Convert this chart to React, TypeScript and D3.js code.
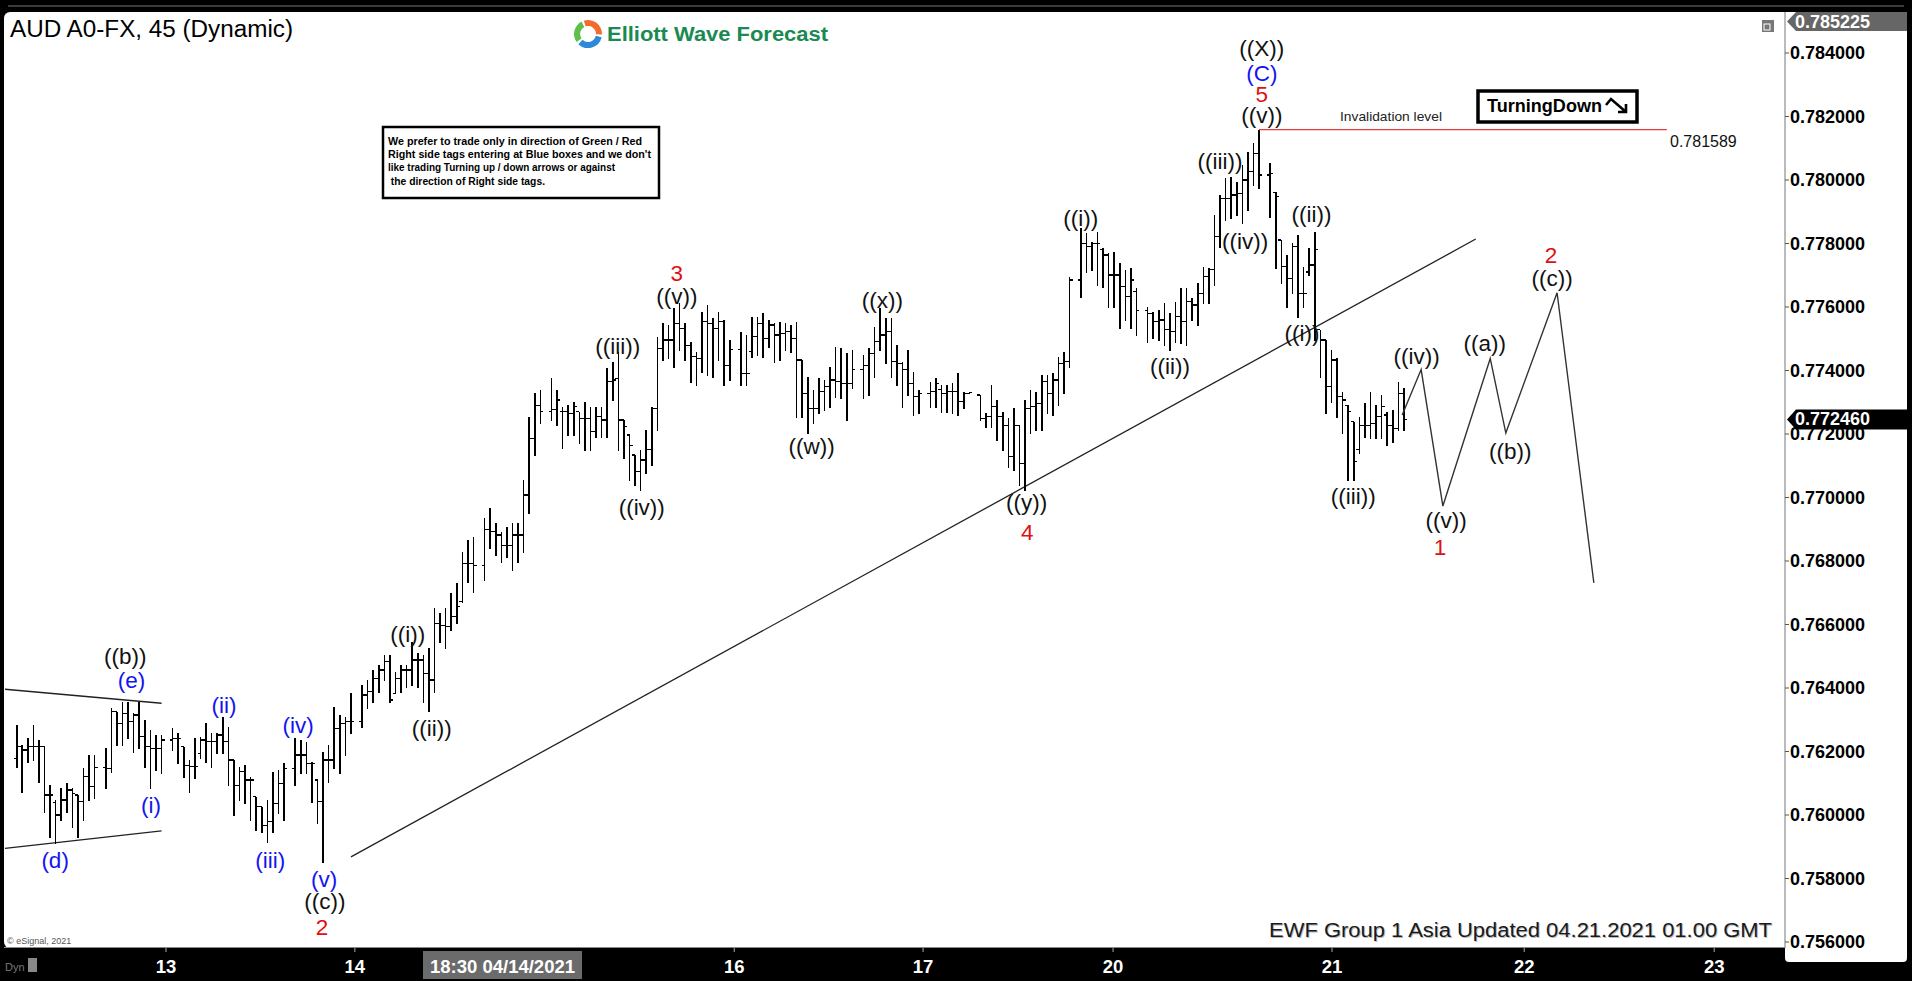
import React from 'react';
import * as d3 from 'd3';

const W = 1912;
const H = 981;
const FONT = '"Liberation Sans", Arial, Helvetica, sans-serif';

type Bar = [number, number, number, number] | null; // open, high, low, close

// Apr 12 - Apr 13 (slots 0-48)
const barsA: Bar[] = [
  [0.76178, 0.76283, 0.76152, 0.76215], [0.76215, 0.7622, 0.76073, 0.76205], [0.76205, 0.76241, 0.76168, 0.76215],
  [0.76215, 0.76283, 0.76173, 0.76215], [0.76215, 0.76236, 0.76105, 0.76215], [0.76215, 0.76215, 0.7601, 0.76063],
  [0.76063, 0.76094, 0.75932, 0.76063], [0.7604, 0.76047, 0.75911, 0.76], [0.76, 0.76084, 0.75984, 0.76047],
  [0.76047, 0.761, 0.7601, 0.76079], [0.76079, 0.76084, 0.75963, 0.76068], [0.76063, 0.76063, 0.75932, 0.76042],
  [0.76042, 0.76147, 0.75984, 0.76121], [0.76121, 0.76189, 0.76047, 0.76089], [0.76089, 0.76189, 0.76052, 0.7615],
  null,
  [0.7615, 0.7621, 0.76084, 0.76147], [0.76147, 0.76336, 0.76136, 0.76325], [0.76325, 0.76325, 0.7622, 0.76289],
  [0.76289, 0.76357, 0.7622, 0.7632], [0.7632, 0.76357, 0.76241, 0.76294], [0.76294, 0.7632, 0.76199, 0.76315],
  [0.76315, 0.76357, 0.7621, 0.76247], [0.76247, 0.76299, 0.76152, 0.76215], [0.76215, 0.76268, 0.76084, 0.7621],
  [0.7621, 0.76252, 0.76142, 0.7621], [0.7621, 0.76252, 0.76131, 0.76236],
  null,
  [0.76236, 0.76273, 0.76205, 0.76241], [0.76241, 0.76257, 0.76163, 0.76241], [0.76215, 0.76215, 0.76121, 0.76157],
  [0.76157, 0.76173, 0.76073, 0.76152], [0.76152, 0.76241, 0.76115, 0.76152], [0.76194, 0.76247, 0.76178, 0.76236],
  [0.76236, 0.76289, 0.76168, 0.76231], [0.76231, 0.76257, 0.76152, 0.76231], [0.76231, 0.76257, 0.76194, 0.76252],
  [0.76252, 0.7631, 0.76194, 0.76231], [0.76231, 0.76278, 0.76094, 0.76173], [0.76173, 0.76173, 0.76, 0.76094],
  [0.76094, 0.76152, 0.76047, 0.76136], [0.76136, 0.76157, 0.76037, 0.7611], [0.7611, 0.76121, 0.75984, 0.7611],
  [0.76058, 0.76058, 0.75953, 0.76026], [0.76026, 0.76026, 0.75947, 0.75968], [0.75968, 0.76047, 0.75916, 0.75979],
  [0.75979, 0.76136, 0.75947, 0.76037], [0.76037, 0.76142, 0.76005, 0.761], [0.761, 0.76163, 0.75984, 0.76147],
];

// Apr 13 - Apr 15 (slots 49-99)
const barsB: Bar[] = [
  null,
  [0.76147, 0.76241, 0.76094, 0.76189], [0.76189, 0.76236, 0.76131, 0.76189], [0.76189, 0.76231, 0.76131, 0.76163],
  [0.76163, 0.76168, 0.76042, 0.76163], [0.7611, 0.7611, 0.75974, 0.76042], [0.76042, 0.76199, 0.75853, 0.76173],
  [0.76173, 0.7622, 0.76105, 0.76173], [0.76173, 0.76341, 0.76147, 0.76273], [0.76273, 0.76315, 0.76131, 0.76289],
  [0.76289, 0.7631, 0.76189, 0.76294], [0.76294, 0.76383, 0.76257, 0.76294],
  null,
  [0.76294, 0.76409, 0.76278, 0.76378], [0.76378, 0.76425, 0.76336, 0.76388], [0.76388, 0.76457, 0.76357, 0.7643],
  [0.7643, 0.76472, 0.76388, 0.76457], [0.76457, 0.76504, 0.76425, 0.76483], [0.76483, 0.76504, 0.76357, 0.76362],
  [0.76383, 0.76451, 0.76383, 0.7643], [0.7643, 0.76472, 0.76388, 0.76457], [0.76457, 0.76472, 0.76404, 0.76457],
  [0.76457, 0.76546, 0.76409, 0.76488], [0.76488, 0.76509, 0.76404, 0.76488], [0.76488, 0.76504, 0.76357, 0.76446],
  [0.76446, 0.76525, 0.76326, 0.76425], [0.76425, 0.76651, 0.76388, 0.76604], [0.76604, 0.76635, 0.76546, 0.76598],
  [0.76598, 0.76651, 0.76525, 0.76593], [0.76593, 0.76698, 0.76583, 0.76625], [0.76625, 0.7673, 0.76604, 0.76656],
  [0.76672, 0.76829, 0.76672, 0.76793], [0.76793, 0.76866, 0.76735, 0.76793], [0.76793, 0.76877, 0.76703, 0.76787],
  null,
  [0.76787, 0.76934, 0.7674, 0.76898], [0.76898, 0.76966, 0.7684, 0.76892], [0.76892, 0.76919, 0.76819, 0.76882],
  [0.76882, 0.76892, 0.76798, 0.7685], [0.7685, 0.76908, 0.76814, 0.7685], [0.7685, 0.76919, 0.76772, 0.76882],
  [0.76882, 0.76919, 0.76798, 0.76882], [0.76882, 0.77055, 0.76829, 0.77008], [0.77008, 0.77255, 0.7695, 0.77186],
  [0.77186, 0.77328, 0.77134, 0.77291], [0.77291, 0.77339, 0.77234, 0.7727],
  null,
  [0.7727, 0.77375, 0.77244, 0.77276], [0.77276, 0.77339, 0.77228, 0.77307], [0.7727, 0.77286, 0.77155, 0.7727],
  [0.7727, 0.77291, 0.77197, 0.77265],
];

// Apr 15 - Apr 16 (slots 100-149)
const barsC: Bar[] = [
  [0.77265, 0.77302, 0.77197, 0.77286], [0.7727, 0.7727, 0.77171, 0.77249], [0.77249, 0.77302, 0.7715, 0.77249],
  [0.77249, 0.77286, 0.7715, 0.77207], [0.77207, 0.77286, 0.77192, 0.77255], [0.77255, 0.77286, 0.77192, 0.77244],
  [0.77244, 0.77407, 0.77192, 0.77365], [0.77365, 0.77428, 0.77307, 0.7737], [0.77375, 0.77459, 0.7715, 0.77244],
  [0.77244, 0.77244, 0.77123, 0.77223], [0.77197, 0.77197, 0.77055, 0.77165], [0.77134, 0.77134, 0.77039, 0.77081],
  [0.77081, 0.7715, 0.77024, 0.77118], [0.77118, 0.77213, 0.77076, 0.7715], [0.7715, 0.77286, 0.77102, 0.77281],
  [0.77281, 0.77507, 0.77213, 0.7747], [0.7747, 0.77549, 0.77433, 0.77496], [0.77496, 0.77543, 0.77438, 0.77496],
  [0.77496, 0.77596, 0.77412, 0.77549], [0.77549, 0.77612, 0.77465, 0.77533], [0.77533, 0.77549, 0.77433, 0.7748],
  [0.7748, 0.77491, 0.77365, 0.77444], [0.77444, 0.77459, 0.77354, 0.77438], [0.77438, 0.77585, 0.77396, 0.77554],
  [0.77554, 0.77606, 0.77386, 0.77549], [0.77549, 0.77564, 0.77381, 0.77533], [0.77533, 0.77585, 0.77433, 0.77554],
  [0.77554, 0.77559, 0.77354, 0.77417], [0.77417, 0.77496, 0.7737, 0.77465],
  null,
  [0.77465, 0.77522, 0.77354, 0.77391], [0.77391, 0.77512, 0.77354, 0.77391], [0.7746, 0.7757, 0.77444, 0.77507],
  [0.77507, 0.7757, 0.77449, 0.77549], [0.77549, 0.7758, 0.77444, 0.77501], [0.77501, 0.77559, 0.77475, 0.77543],
  [0.77543, 0.77549, 0.77428, 0.77512], [0.77512, 0.77554, 0.77433, 0.77517], [0.77517, 0.77549, 0.77465, 0.77522],
  [0.77522, 0.77543, 0.77459, 0.77501], [0.77501, 0.77554, 0.77255, 0.77433], [0.77433, 0.77433, 0.77255, 0.77328],
  [0.77328, 0.77381, 0.77202, 0.77281], [0.77281, 0.77339, 0.77234, 0.77281], [0.77281, 0.77375, 0.77265, 0.77333],
  [0.77333, 0.7737, 0.77276, 0.77349], [0.77349, 0.77412, 0.77286, 0.7737], [0.7737, 0.77475, 0.77318, 0.77365],
  [0.77365, 0.7747, 0.77312, 0.7736], [0.7736, 0.77454, 0.77244, 0.7736],
];

// Apr 16 - Apr 20 (slots 150-199)
const barsD: Bar[] = [
  [0.7736, 0.77465, 0.77344, 0.77402],
  null,
  [0.77402, 0.77449, 0.77312, 0.77417], [0.77417, 0.7747, 0.77323, 0.77454], [0.77454, 0.77538, 0.77381, 0.77491],
  [0.77491, 0.77596, 0.77465, 0.77512], [0.77512, 0.77564, 0.77423, 0.77522], [0.77522, 0.77564, 0.77381, 0.77428],
  [0.77428, 0.7748, 0.77354, 0.77423], [0.77423, 0.77428, 0.77286, 0.77402], [0.77402, 0.77465, 0.77323, 0.7736],
  [0.7736, 0.77396, 0.7726, 0.77318], [0.77318, 0.77339, 0.77265, 0.77328],
  null,
  [0.77328, 0.77365, 0.77286, 0.77333], [0.77333, 0.77375, 0.77286, 0.7736], [0.7734, 0.77354, 0.7727, 0.77328],
  [0.77328, 0.77354, 0.7727, 0.77333], [0.77333, 0.7736, 0.77265, 0.77333], [0.77333, 0.77391, 0.7726, 0.77302],
  [0.77302, 0.77333, 0.77281, 0.77328], [0.77328, 0.77333, 0.77328, 0.77331],
  null,
  [0.77323, 0.77323, 0.77244, 0.77249], [0.77249, 0.77265, 0.77223, 0.77255], [0.77255, 0.77354, 0.77223, 0.77286],
  [0.77286, 0.77307, 0.77181, 0.77255], [0.77255, 0.7727, 0.7715, 0.77228], [0.77228, 0.77249, 0.77097, 0.77129],
  [0.77129, 0.77281, 0.77087, 0.77228], [0.77228, 0.77228, 0.77039, 0.77108], [0.77108, 0.77307, 0.77023, 0.77281],
  [0.77281, 0.77339, 0.77202, 0.77286], [0.77286, 0.77333, 0.77213, 0.77297], [0.77297, 0.77386, 0.77213, 0.77365],
  [0.77365, 0.77386, 0.77265, 0.77328], [0.77328, 0.77391, 0.7726, 0.7737], [0.7737, 0.77444, 0.77291, 0.77423],
  [0.77423, 0.77459, 0.77328, 0.77428], [0.77428, 0.77696, 0.77412, 0.77685],
  null,
  [0.77685, 0.77848, 0.77633, 0.77801], [0.77801, 0.77832, 0.77711, 0.7779], [0.7779, 0.77806, 0.77717, 0.77801],
  [0.77801, 0.77837, 0.77669, 0.77801], [0.7778, 0.77785, 0.77664, 0.77764], [0.77764, 0.77769, 0.77601, 0.77701],
  [0.77701, 0.77774, 0.77601, 0.77701], [0.77701, 0.77738, 0.77533, 0.77664], [0.77664, 0.77717, 0.77559, 0.77633],
];

// Apr 20 - Apr 21 (slots 200-249)
const barsE: Bar[] = [
  [0.77633, 0.77722, 0.77533, 0.77685], [0.7765, 0.77659, 0.77512, 0.7759],
  null,
  [0.7759, 0.77601, 0.77491, 0.7758], [0.7758, 0.77585, 0.77501, 0.77554], [0.77554, 0.7759, 0.77496, 0.77559],
  [0.77559, 0.77612, 0.7748, 0.77528], [0.77528, 0.7758, 0.77465, 0.77522], [0.77522, 0.77617, 0.77491, 0.7757],
  [0.7757, 0.77659, 0.77486, 0.77554], [0.77554, 0.77659, 0.7748, 0.77617], [0.77617, 0.77627, 0.77559, 0.77606],
  [0.77606, 0.77675, 0.77543, 0.77643], [0.77643, 0.77727, 0.77612, 0.77696], [0.77696, 0.77722, 0.77612, 0.77717],
  [0.77717, 0.7789, 0.77669, 0.77822], [0.77822, 0.77953, 0.7779, 0.77942], [0.77942, 0.78005, 0.77874, 0.77942],
  [0.77942, 0.78011, 0.77879, 0.77953], [0.77953, 0.77995, 0.7789, 0.77958], [0.77958, 0.78047, 0.77864, 0.78],
  [0.78, 0.78089, 0.77906, 0.78026], [0.78026, 0.78116, 0.77984, 0.78084], [0.78084, 0.78159, 0.77974, 0.78016],
  null,
  [0.78016, 0.78053, 0.77885, 0.78021], [0.7796, 0.77963, 0.77722, 0.77948], [0.77811, 0.77811, 0.77675, 0.77727],
  [0.77727, 0.77764, 0.77601, 0.7769], [0.7769, 0.77801, 0.77643, 0.7779], [0.7779, 0.77827, 0.7757, 0.77643],
  [0.77643, 0.77727, 0.77601, 0.77643], [0.7771, 0.77785, 0.77701, 0.77732], [0.77732, 0.77837, 0.77496, 0.7778],
  [0.77528, 0.77528, 0.77381, 0.77496], [0.77496, 0.77496, 0.77265, 0.77349], [0.77349, 0.77465, 0.77302, 0.77433],
  [0.77433, 0.77438, 0.77254, 0.77318], [0.77318, 0.77333, 0.77202, 0.77307], [0.77291, 0.77291, 0.77055, 0.7727],
  [0.77239, 0.77239, 0.77055, 0.77113], [0.7715, 0.77254, 0.77139, 0.77228], [0.77228, 0.77297, 0.77192, 0.77228],
  [0.77228, 0.77333, 0.77186, 0.77234], [0.77234, 0.77291, 0.77186, 0.77255], [0.77255, 0.77323, 0.77186, 0.77286],
  [0.7726, 0.7727, 0.77165, 0.77228], [0.77228, 0.77276, 0.77176, 0.77218], [0.77218, 0.77365, 0.77213, 0.77328],
  [0.77328, 0.77344, 0.77213, 0.77246],
];

const bars: Bar[] = [...barsA, ...barsB, ...barsC, ...barsD, ...barsE];

const priceTicks = [0.756, 0.758, 0.76, 0.762, 0.764, 0.766, 0.768, 0.77, 0.772, 0.774, 0.776, 0.778, 0.78, 0.782, 0.784];
const timeTickSlots = [26.8, 60.7, 128.8, 162.7, 196.8, 236.1, 270.6, 304.7];
const timeTickLabels = ['13', '14', '16', '17', '20', '21', '22', '23'];
const crosshairSlot = 87.2;
const crosshairLabel = '18:30 04/14/2021';

const highTag = 0.785225;
const lastPrice = 0.77246;
const invalidation = 0.781589;
const invalidationSlots = [223, 296.2];

// trendlines: [slot, price]
const trendLine: [number, number][] = [[60, 0.75868], [261.9, 0.77814]];
const triangleUpper: [number, number][] = [[-2.1, 0.76396], [26.0, 0.76352]];
const triangleLower: [number, number][] = [[-2.1, 0.75895], [26.0, 0.7595]];
const projection: [number, number][] = [
  [248.7, 0.7726], [252.1, 0.77403], [256.0, 0.76973], [264.5, 0.77438], [267.3, 0.77203], [276.5, 0.77645], [283.1, 0.76731],
];

const BLK = '#111';
const BLU = '#1414f0';
const RED = '#e01010';
// [text, slot, price, color]
const waveLabels: [string, number, number, string][] = [
  ['((X))', 223.5, 0.78413, BLK], ['(C)', 223.5, 0.78337, BLU], ['5', 223.5, 0.78268, RED], ['((v))', 223.5, 0.78202, BLK],
  ['((iii))', 216.0, 0.78058, BLK], ['((iv))', 220.5, 0.77806, BLK], ['((ii))', 232.4, 0.7789, BLK], ['((i))', 230.7, 0.77517, BLK],
  ['((iii))', 239.9, 0.77002, BLK], ['((iv))', 251.3, 0.77445, BLK], ['((v))', 256.6, 0.76926, BLK], ['1', 255.5, 0.76842, RED],
  ['((a))', 263.5, 0.77485, BLK], ['((b))', 268.1, 0.77146, BLK], ['((c))', 275.6, 0.77691, BLK], ['2', 275.4, 0.77761, RED],
  ['((i))', 191.0, 0.7788, BLK], ['((ii))', 207.0, 0.77412, BLK], ['((x))', 155.4, 0.77622, BLK], ['((w))', 142.7, 0.7716, BLK],
  ['((y))', 181.3, 0.76983, BLK], ['4', 181.4, 0.76891, RED], ['3', 118.5, 0.77707, RED], ['((v))', 118.5, 0.77632, BLK],
  ['((iii))', 107.9, 0.77475, BLK], ['((iv))', 112.2, 0.76967, BLK], ['((i))', 70.2, 0.76567, BLK], ['((ii))', 74.5, 0.76274, BLK],
  ['(iv)', 50.5, 0.76283, BLU], ['(v)', 55.2, 0.75798, BLU], ['((c))', 55.3, 0.75727, BLK], ['2', 54.8, 0.75647, RED],
  ['(ii)', 37.2, 0.76346, BLU], ['(i)', 24.1, 0.76031, BLU], ['(iii)', 45.5, 0.75858, BLU], ['(e)', 20.6, 0.76425, BLU],
  ['((b))', 19.5, 0.765, BLK], ['(d)', 6.9, 0.75858, BLU],
];

const noteLines = [
  'We prefer to trade only in direction of Green / Red',
  "Right side tags entering at Blue boxes and we don't",
  'like trading Turning up / down arrows or against',
  ' the direction of Right side tags.',
];
const noteLineWidths = [254, 263, 227, 157];

export default function App() {
  const x = d3.scaleLinear().domain([0, 300]).range([16.7, 16.7 + 300 * 5.571]);
  const y = d3.scaleLinear().domain([0.756, 0.784]).range([942, 53]);
  const fmt = d3.format('.6f');
  const line = d3.line<[number, number]>().x((d) => x(d[0])).y((d) => y(d[1]));

  const axisX = 1785;
  const plotBottom = 948;

  return (
    <div style={{ position: 'fixed', left: 0, top: 0, width: W, height: H, overflow: 'hidden' }}>
      <svg width={W} height={H} style={{ display: 'block', fontFamily: FONT }}>
        <rect x={0} y={0} width={W} height={H} fill="#000" />
        <rect x={8} y={5} width={W - 16} height={2} fill="#3a3a3a" />
        {/* main white panel */}
        <rect x={4} y={12} width={W - 9} height={plotBottom - 12} rx={6} fill="#fff" />
        <rect x={axisX} y={12} width={W - 5 - axisX} height={962 - 12} rx={4} fill="#fff" />
        <line x1={axisX} x2={axisX} y1={12} y2={plotBottom} stroke="#777" strokeWidth={1} />
        <line x1={4} x2={axisX} y1={plotBottom - 0.5} y2={plotBottom - 0.5} stroke="#888" strokeWidth={1} />

        {/* title */}
        <text x={10} y={37} fontSize={23} fill="#000" textLength={283} lengthAdjust="spacingAndGlyphs">AUD A0-FX, 45 (Dynamic)</text>

        {/* logo */}
        <g>
          <path d={d3.arc()({ innerRadius: 8, outerRadius: 14, startAngle: -0.3, endAngle: 1.6 }) as string} transform="translate(588,34)" fill="#f26b2a" />
          <path d={d3.arc()({ innerRadius: 8, outerRadius: 14, startAngle: 1.8, endAngle: 3.9 }) as string} transform="translate(588,34)" fill="#2d8ad8" />
          <path d={d3.arc()({ innerRadius: 8, outerRadius: 14, startAngle: 4.1, endAngle: 5.8 }) as string} transform="translate(588,34)" fill="#5fbf4a" />
          <text x={607} y={41} fontSize={20} fontWeight="bold" fill="#1a8a52" textLength={221} lengthAdjust="spacingAndGlyphs">Elliott Wave Forecast</text>
        </g>

        {/* small window icon top right */}
        <rect x={1762} y={20} width={12} height={12} fill="#777" />
        <rect x={1764} y={24} width={6} height={6} fill="none" stroke="#fff" strokeWidth={1} />

        {/* note box */}
        <rect x={383} y={127} width={276} height={71} fill="#fff" stroke="#000" strokeWidth={2.5} />
        {noteLines.map((t, i) => (
          <text key={i} x={388} y={144.5 + i * 13.4} fontSize={11.8} fontWeight="bold" fill="#000"
            textLength={noteLineWidths[i]} lengthAdjust="spacingAndGlyphs" xmlSpace="preserve">{t}</text>
        ))}

        {/* triangle + trendline */}
        <path d={line(triangleUpper) as string} stroke="#222" strokeWidth={1.3} fill="none" />
        <path d={line(triangleLower) as string} stroke="#222" strokeWidth={1.3} fill="none" />
        <path d={line(trendLine) as string} stroke="#222" strokeWidth={1.3} fill="none" />

        {/* OHLC bars */}
        <g stroke="#000" shapeRendering="crispEdges">
          {bars.map((b, i) =>
            b ? (
              <g key={i}>
                <line x1={x(i)} x2={x(i)} y1={y(b[1])} y2={y(b[2]) + 1} strokeWidth={1.6} />
                <line x1={x(i) - 3} x2={x(i)} y1={y(b[0])} y2={y(b[0])} strokeWidth={1.2} />
                <line x1={x(i)} x2={x(i) + 3} y1={y(b[3])} y2={y(b[3])} strokeWidth={1.2} />
              </g>
            ) : null
          )}
        </g>

        {/* invalidation */}
        <line x1={x(invalidationSlots[0])} x2={x(invalidationSlots[1])} y1={y(invalidation)} y2={y(invalidation)} stroke="#e8393a" strokeWidth={1.3} />
        <text x={1340} y={y(invalidation) - 9} fontSize={13.5} fill="#222" textLength={102} lengthAdjust="spacingAndGlyphs">Invalidation level</text>
        <text x={1670} y={y(invalidation) + 17} fontSize={16} fill="#111">{invalidation.toFixed(6)}</text>

        {/* TurningDown box */}
        <rect x={1478} y={91} width={159} height={31} fill="#fff" stroke="#000" strokeWidth={3.5} />
        <text x={1487} y={112} fontSize={18} fontWeight="bold" fill="#000" textLength={115} lengthAdjust="spacingAndGlyphs">TurningDown</text>
        <path d="M1606,105 L1611,99 L1626,112 M1626,104 L1626,112 L1618,112" stroke="#000" strokeWidth={2.6} fill="none" />

        {/* projection */}
        <path d={line(projection) as string} stroke="#333" strokeWidth={1.4} fill="none" />

        {/* wave labels */}
        {waveLabels.map(([t, s, p, c], i) => (
          <text key={i} x={x(s)} y={y(p)} fontSize={22.5} fill={c} textAnchor="middle" dominantBaseline="central">{t}</text>
        ))}

        {/* right axis */}
        {priceTicks.map((p) => (
          <g key={p}>
            <line x1={axisX} x2={axisX + 4} y1={y(p)} y2={y(p)} stroke="#555" />
            <text x={1790} y={y(p)} fontSize={18} fontWeight="bold" fill="#000" dominantBaseline="central">{fmt(p)}</text>
          </g>
        ))}
        <path d={`M${axisX + 2},21.5 L${axisX + 11},12 L1907,12 L1907,31 L${axisX + 11},31 Z`} fill="#666" />
        <text x={1795} y={21.5} fontSize={18} fontWeight="bold" fill="#fff" dominantBaseline="central">{fmt(highTag)}</text>
        <path d={`M${axisX + 2},${y(lastPrice)} L${axisX + 11},${y(lastPrice) - 10} L1907,${y(lastPrice) - 10} L1907,${y(lastPrice) + 10} L${axisX + 11},${y(lastPrice) + 10} Z`} fill="#000" />
        <text x={1795} y={y(lastPrice)} fontSize={18} fontWeight="bold" fill="#fff" dominantBaseline="central">{fmt(lastPrice)}</text>

        {/* bottom time axis */}
        {timeTickSlots.map((s, i) => (
          <g key={i}>
            <line x1={x(s)} x2={x(s)} y1={plotBottom} y2={plotBottom + 4} stroke="#aaa" />
            <text x={x(s)} y={966} fontSize={18.5} fontWeight="bold" fill="#fff" textAnchor="middle" dominantBaseline="central">{timeTickLabels[i]}</text>
          </g>
        ))}
        <rect x={x(crosshairSlot) - 79.5} y={951} width={159} height={28} fill="#6b6b6b" />
        <text x={x(crosshairSlot)} y={966} fontSize={18.5} fontWeight="bold" fill="#fff" textAnchor="middle" dominantBaseline="central">{crosshairLabel}</text>
        <text x={5} y={971} fontSize={11} fill="#777">Dyn</text>
        <rect x={28} y={958} width={9} height={14} fill="#888" />

        {/* footer */}
        <text x={7} y={944} fontSize={9} fill="#555">© eSignal, 2021</text>
        <text x={1772} y={937} fontSize={20} fill="#bbb" textAnchor="end" textLength={503} lengthAdjust="spacingAndGlyphs" transform="translate(1,1)">EWF Group 1 Asia Updated 04.21.2021 01.00 GMT</text>
        <text x={1772} y={937} fontSize={20} fill="#1a1a1a" textAnchor="end" textLength={503} lengthAdjust="spacingAndGlyphs">EWF Group 1 Asia Updated 04.21.2021 01.00 GMT</text>
      </svg>
    </div>
  );
}
